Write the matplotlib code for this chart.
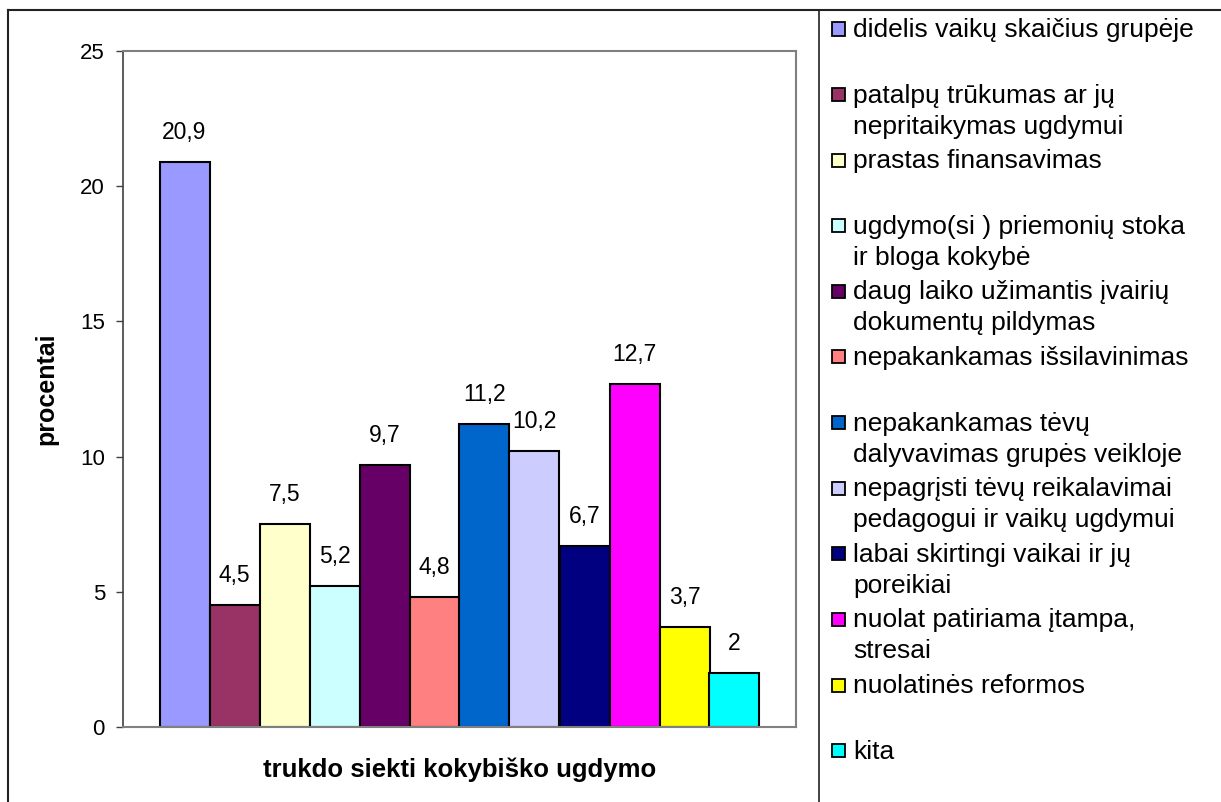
import matplotlib.pyplot as plt
from matplotlib.lines import Line2D
from matplotlib.patches import Rectangle

plt.rcParams['font.family'] = ['Liberation Sans', 'DejaVu Sans']

kategorijos = [
    'didelis vaikų skaičius grupėje',
    'patalpų trūkumas ar jų\nnepritaikymas ugdymui',
    'prastas finansavimas',
    'ugdymo(si ) priemonių stoka\nir bloga kokybė',
    'daug laiko užimantis įvairių\ndokumentų pildymas',
    'nepakankamas išsilavinimas',
    'nepakankamas tėvų\ndalyvavimas grupės veikloje',
    'nepagrįsti tėvų reikalavimai\npedagogui ir vaikų ugdymui',
    'labai skirtingi vaikai ir jų\nporeikiai',
    'nuolat patiriama įtampa,\nstresai',
    'nuolatinės reformos',
    'kita',
]
reiksmes = [20.9, 4.5, 7.5, 5.2, 9.7, 4.8, 11.2, 10.2, 6.7, 12.7, 3.7, 2]
spalvos = ['#9999FF', '#993366', '#FFFFCC', '#CCFFFF', '#660066', '#FF8080',
           '#0066CC', '#CCCCFF', '#000080', '#FF00FF', '#FFFF00', '#00FFFF']

W, H = 1221, 802
fig = plt.figure(figsize=(W/100, H/100), dpi=100)
ax = fig.add_axes([123/W, 1-727/H, (796-123)/W, (727-51)/H])

x = list(range(len(reiksmes)))
bars = ax.bar(x, reiksmes, width=1.0, color=spalvos, edgecolor='black', linewidth=1.5)
for b, v in zip(bars, reiksmes):
    txt = ('%g' % v).replace('.', ',')
    ax.annotate(txt, (b.get_x() + b.get_width()/2, v), xytext=(0, 13),
                textcoords='offset points', ha='center', va='bottom', fontsize=16.5)

ax.set_xlim(-0.5-0.73, 11.5+0.73)
ax.set_ylim(0, 25)
ax.set_yticks([0, 5, 10, 15, 20, 25])
ax.set_xticks([])
ax.tick_params(axis='y', labelsize=16, length=5, width=1, color='#404040', pad=8)
for s in ['top', 'right', 'bottom']:
    ax.spines[s].set_color('#808080')
    ax.spines[s].set_linewidth(1.5)
ax.spines['left'].set_color('#404040')
ax.spines['left'].set_linewidth(1.2)

ax.set_ylabel('procentai', fontsize=18, fontweight='bold')
ax.yaxis.set_label_coords(-65/673, 0.5)
ax.set_xlabel('trukdo siekti kokybiško ugdymo', fontsize=18.5, fontweight='bold')
ax.xaxis.set_label_coords(0.5, -31/676)

# outer frame and separator
fig.add_artist(Line2D([8/W, 8/W], [0, 1-10/H], color='#222222', lw=1.5))
fig.add_artist(Line2D([8/W, 1], [1-10/H, 1-10/H], color='#222222', lw=1.5))
fig.add_artist(Line2D([819/W, 819/W], [0, 1-10/H], color='#222222', lw=1.2))

# legend drawn by hand
y0, step, line_h = 29, 65.6, 31
for i, (lab, c) in enumerate(zip(kategorijos, spalvos)):
    yc = y0 + step*i
    fig.add_artist(Rectangle((832/W, 1-(yc+6.5)/H), 13/W, 13/H, facecolor=c,
                             edgecolor='black', linewidth=1.3, transform=fig.transFigure))
    for j, line in enumerate(lab.split('\n')):
        fig.text(853/W, 1-(yc+8+line_h*j)/H, line, fontsize=19, va='baseline', ha='left')

fig.savefig('out.png', dpi=100)
